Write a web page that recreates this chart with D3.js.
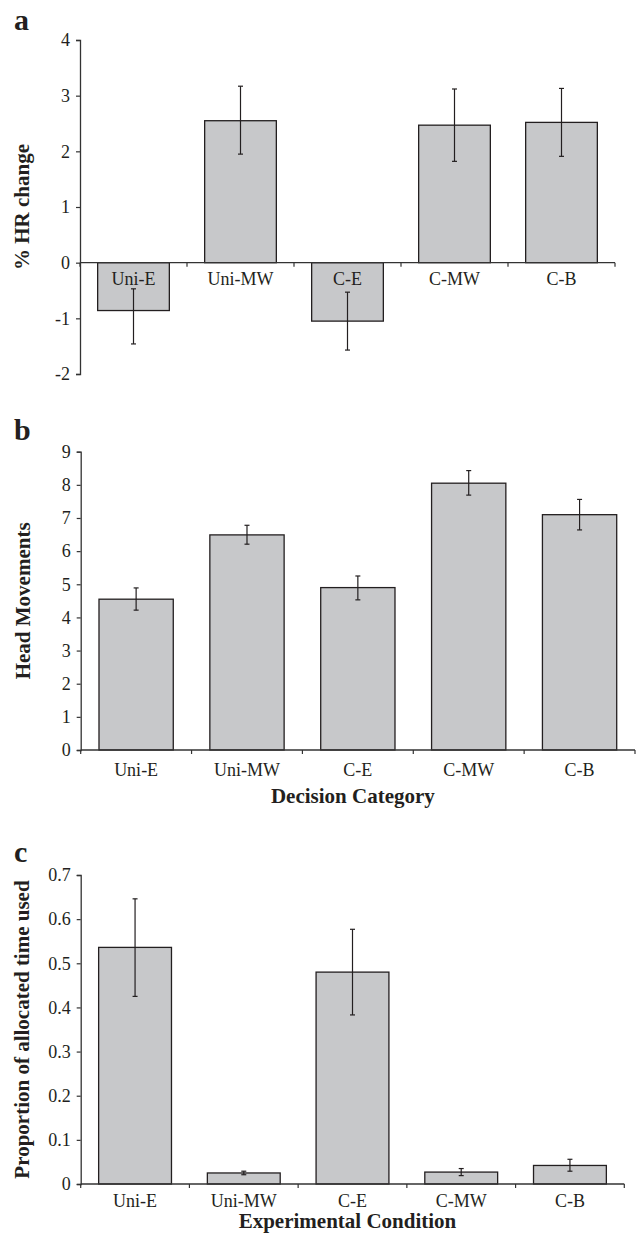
<!DOCTYPE html>
<html>
<head>
<meta charset="utf-8">
<script src="https://cdn.jsdelivr.net/npm/d3@7"></script>
<style>
  body { margin: 0; background: #fff; }
  svg { display: block; }
  text { font-family: "Liberation Serif", "Times New Roman", serif; fill: #231f20; }
</style>
</head>
<body>
<div id="chart"></div>
<script>
// categories shared by the three panels
const categories = ["Uni-E", "Uni-MW", "C-E", "C-MW", "C-B"];

// panel a: % HR change (mean, lower and upper end of error bar)
const hrChange = [-0.86, 2.55, -1.05, 2.47, 2.52];
const hrLow    = [-1.46, 1.95, -1.57, 1.82, 1.91];
const hrHigh   = [-0.47, 3.17, -0.53, 3.12, 3.13];
const hrTicks  = [-2, -1, 0, 1, 2, 3, 4];

// panel b: head movements
const headMoves = [4.55, 6.49, 4.90, 8.05, 7.10];
const headLow   = [4.22, 6.21, 4.53, 7.69, 6.64];
const headHigh  = [4.89, 6.78, 5.25, 8.43, 7.56];
const headTicks = [0, 1, 2, 3, 4, 5, 6, 7, 8, 9];

// panel c: proportion of allocated time used
const timeUsed  = [0.536, 0.025, 0.480, 0.027, 0.042];
const timeLow   = [0.425, 0.021, 0.383, 0.019, 0.029];
const timeHigh  = [0.646, 0.029, 0.577, 0.035, 0.056];
const timeTicks = [0, 0.1, 0.2, 0.3, 0.4, 0.5, 0.6, 0.7];

const width = 636,
      height = 1239;

const svg = d3.select("#chart")
  .append("svg")
    .attr("width", width)
    .attr("height", height);

const ink = "#231f20";

// panel layout
const panels = [
  { letter: "a", letterY: 30, values: hrChange, low: hrLow, high: hrHigh,
    ticks: hrTicks, fmt: d => String(d),
    x0: 80, x1: 615, yTop: 40, yBot: 374,
    yTitle: "% HR change", yTitleX: 29,
    labelOffset: 22, xTitle: null },
  { letter: "b", letterY: 440, values: headMoves, low: headLow, high: headHigh,
    ticks: headTicks, fmt: d => String(d),
    x0: 80.7, x1: 635, yTop: 451.7, yBot: 750,
    yTitle: "Head Movements", yTitleX: 30,
    labelOffset: 26, xTitle: "Decision Category", xTitleY: 803 },
  { letter: "c", letterY: 862, values: timeUsed, low: timeLow, high: timeHigh,
    ticks: timeTicks, fmt: d => d3.format(".1~f")(d),
    x0: 80.7, x1: 624.3, yTop: 875, yBot: 1184,
    yTitle: "Proportion of allocated time used", yTitleX: 29,
    labelOffset: 23, xTitle: "Experimental Condition", xTitleY: 1228 }
];

panels.forEach(drawPanel);

function drawPanel(p) {
  const g = svg.append("g");

  const x = d3.scaleBand()
    .domain(categories)
    .range([p.x0, p.x1])
    .paddingInner(0.33)
    .paddingOuter(0.165);

  const y = d3.scaleLinear()
    .domain([p.ticks[0], p.ticks[p.ticks.length - 1]])
    .range([p.yBot, p.yTop]);

  const y0 = y(0);
  const rows = categories.map((c, i) => ({ c, v: p.values[i], lo: p.low[i], hi: p.high[i] }));

  // bars
  g.selectAll("rect.bar")
    .data(rows)
    .join("rect")
      .attr("class", "bar")
      .attr("x", d => x(d.c))
      .attr("width", x.bandwidth())
      .attr("y", d => y(Math.max(d.v, 0)))
      .attr("height", d => Math.abs(y(d.v) - y0))
      .attr("fill", "#c7c8ca")
      .attr("stroke", ink)
      .attr("stroke-width", 1.3);

  // category labels
  g.selectAll("text.cat")
    .data(rows)
    .join("text")
      .attr("class", "cat")
      .attr("x", d => x(d.c) + x.bandwidth() / 2)
      .attr("y", y0 + p.labelOffset)
      .attr("text-anchor", "middle")
      .style("font-size", "18px")
      .text(d => d.c);

  // error bars
  const eb = g.selectAll("g.err")
    .data(rows)
    .join("g")
      .attr("class", "err")
      .attr("stroke", ink)
      .attr("stroke-width", 1.2);
  const cx = d => x(d.c) + x.bandwidth() / 2;
  eb.append("line")
    .attr("x1", cx).attr("x2", cx)
    .attr("y1", d => y(d.lo)).attr("y2", d => y(d.hi));
  eb.append("line")
    .attr("x1", d => cx(d) - 2.5).attr("x2", d => cx(d) + 2.5)
    .attr("y1", d => y(d.lo)).attr("y2", d => y(d.lo));
  eb.append("line")
    .attr("x1", d => cx(d) - 2.5).attr("x2", d => cx(d) + 2.5)
    .attr("y1", d => y(d.hi)).attr("y2", d => y(d.hi));

  // category axis line with boundary ticks
  g.append("line")
    .attr("x1", p.x0).attr("x2", p.x1)
    .attr("y1", y0).attr("y2", y0)
    .attr("stroke", "#333").attr("stroke-width", 1.3);
  g.selectAll("line.btick")
    .data(d3.range(categories.length + 1))
    .join("line")
      .attr("class", "btick")
      .attr("x1", i => p.x0 + i * x.step())
      .attr("x2", i => p.x0 + i * x.step())
      .attr("y1", y0).attr("y2", y0 + 4)
      .attr("stroke", "#333").attr("stroke-width", 1.2);

  // value axis
  const yAxis = g.append("g")
    .attr("transform", `translate(${p.x0},0)`)
    .call(d3.axisLeft(y).tickValues(p.ticks).tickFormat(p.fmt).tickSize(4).tickPadding(6));
  yAxis.select(".domain").attr("stroke", "#333").attr("stroke-width", 1.3);
  yAxis.selectAll(".tick line").attr("stroke", "#333").attr("stroke-width", 1.2);
  yAxis.selectAll(".tick text")
    .attr("fill", ink)
    .style("font-family", "'Liberation Serif', 'Times New Roman', serif")
    .style("font-size", "18px");

  // titles
  g.append("text")
    .attr("transform", `translate(${p.yTitleX},${(p.yTop + p.yBot) / 2}) rotate(-90)`)
    .attr("text-anchor", "middle")
    .style("font-size", "21px")
    .style("font-weight", "bold")
    .text(p.yTitle);

  if (p.xTitle) {
    g.append("text")
      .attr("x", (p.x0 + p.x1) / 2 - 5)
      .attr("y", p.xTitleY)
      .attr("text-anchor", "middle")
      .style("font-size", "21px")
      .style("font-weight", "bold")
      .text(p.xTitle);
  }

  g.append("text")
    .attr("x", 14)
    .attr("y", p.letterY)
    .style("font-size", "30px")
    .style("font-weight", "bold")
    .text(p.letter);
}
</script>
</body>
</html>
